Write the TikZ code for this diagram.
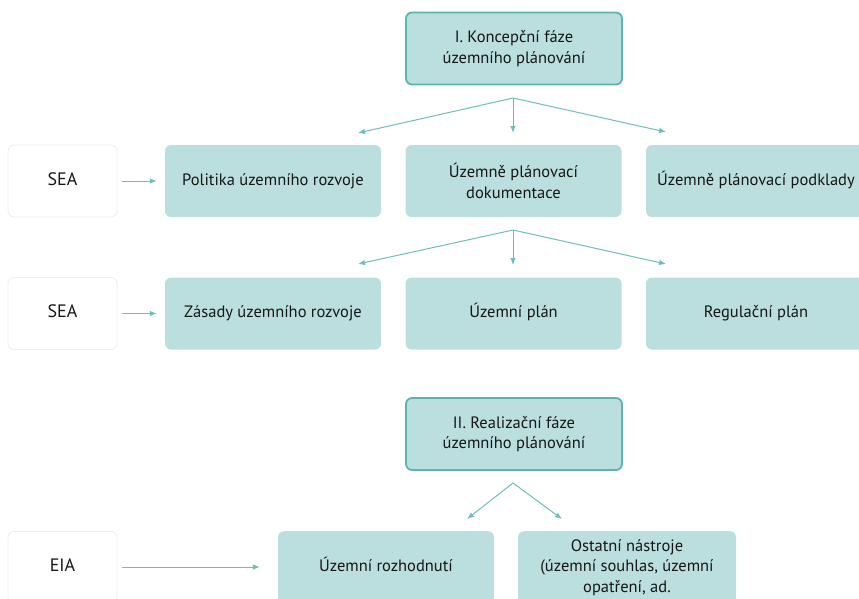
\documentclass[tikz,border=0pt]{standalone}
\usepackage{fontspec}
\setmainfont{PT Sans}
\usetikzlibrary{arrows.meta}
\definecolor{boxfill}{HTML}{BBDFDE}
\definecolor{boxedge}{HTML}{5FB3AE}
\definecolor{arrowc}{HTML}{6CBEB9}
\definecolor{seaedge}{HTML}{E6F1F1}
\definecolor{txt}{HTML}{161616}
\tikzset{
  every node/.style={font=\fontsize{16.5}{20.5}\selectfont, text=txt, align=center},
  oneline/.style={text height=12pt, text depth=4pt},
  phase/.style={draw=boxedge, line width=1.8pt, fill=boxfill, rounded corners=6pt,
    minimum width=216pt, minimum height=72pt, inner sep=0pt},
  item/.style={fill=boxfill, rounded corners=6pt, minimum width=216pt,
    minimum height=72pt, inner sep=0pt},
  assess/.style={draw=seaedge, line width=0.8pt, fill=white, rounded corners=6pt,
    minimum width=109pt, minimum height=72pt, inner sep=0pt, oneline,
    font=\fontsize{18}{21}\selectfont},
  conn/.style={draw=arrowc, line width=1pt, -{Latex[length=7pt,width=5.5pt]}}
}
\begin{document}
\begin{tikzpicture}[x=1pt,y=-1pt]
\useasboundingbox (0,0) rectangle (859,598);
\clip (0,0) rectangle (859,598);
% phase I
\node[phase] (p1) at (514,48.5) {I. Koncepční fáze\\územního plánování};
% row 1
\node[assess] (sea1) at (62.5,181) {SEA};
\node[item, oneline] (pol) at (273,181) {Politika územního rozvoje};
\node[item] (upd) at (513.5,181) {Územně plánovací\\dokumentace};
\node[item, oneline, minimum width=220pt] (upp) at (756,181) {Územně plánovací podklady};
% row 2
\node[assess] (sea2) at (62.5,313.5) {SEA};
\node[item, oneline] (zur) at (273,313.5) {Zásady územního rozvoje};
\node[item, oneline] (up) at (513.5,313.5) {Územní plán};
\node[item, oneline, minimum width=220pt] (rp) at (756,313.5) {Regulační plán};
% phase II
\node[phase] (p2) at (514,434) {II. Realizační fáze\\územního plánování};
% row 3
\node[assess, anchor=north] (eia) at (62.5,531) {EIA};
\node[item, oneline, anchor=north] (ur) at (386,531) {Územní rozhodnutí};
\node[item, anchor=north, minimum width=218pt] (on) at (627,531) {Ostatní nástroje\\(územní souhlas, územní\\opatření, ad.};
% coordinates for split arrows
\coordinate (s1) at (513,98);
\coordinate (s1l) at (358,133);
\coordinate (s1c) at (513,133);
\coordinate (s1r) at (666,132);
\coordinate (s2) at (513,230);
\coordinate (s2l) at (358,264);
\coordinate (s2c) at (513,265);
\coordinate (s2r) at (666,264);
\coordinate (s3) at (513,483);
\coordinate (s3l) at (467,519);
\coordinate (s3r) at (562,519);
\draw[conn] (s1) -- (s1l);
\draw[conn] (s1) -- (s1c);
\draw[conn] (s1) -- (s1r);
\draw[conn] (s2) -- (s2l);
\draw[conn] (s2) -- (s2c);
\draw[conn] (s2) -- (s2r);
\draw[conn] (s3) -- (s3l);
\draw[conn] (s3) -- (s3r);
\draw[conn, shorten <=5pt, shorten >=8pt] (sea1) -- (pol);
\draw[conn, shorten <=5pt, shorten >=8pt] (sea2) -- (zur);
\draw[conn, shorten <=5pt, shorten >=18pt] (eia.east |- 0,567) -- (ur.west |- 0,567);
\end{tikzpicture}
\end{document}
